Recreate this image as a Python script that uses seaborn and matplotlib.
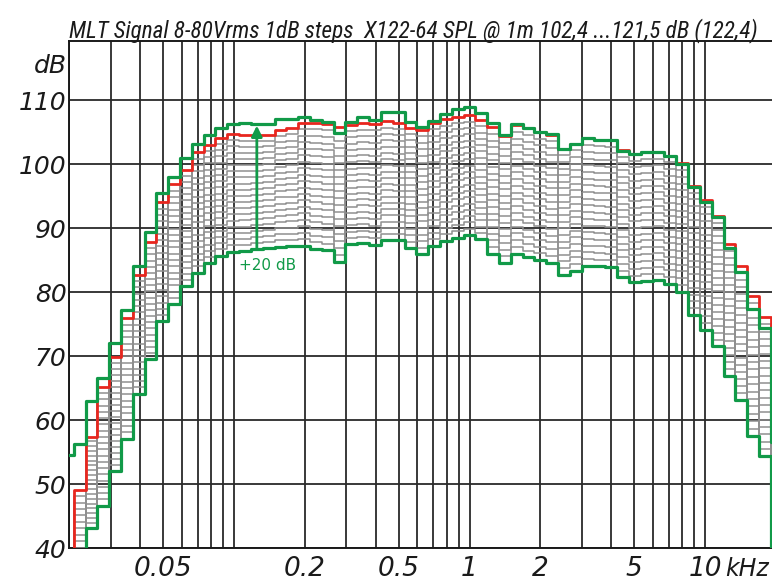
import numpy as np
import pandas as pd
import matplotlib
matplotlib.use("Agg")
import matplotlib.pyplot as plt
from matplotlib import font_manager as fm
from matplotlib.ticker import NullFormatter
import seaborn as sns

# ---------------- data (1/6-octave bands, band n has centre 1 kHz * 2**(n/6)) -------------
band_index = list(range(-34, 27))

top_db = [54.5, 56.2, 63.0, 66.6, 72.1, 77.2, 84.1, 89.4, 95.5, 98.0,
          101.0, 103.1, 104.6, 105.6, 106.3, 106.4, 106.3, 106.3, 107.0, 107.0,
          107.4, 106.9, 106.5, 104.9, 106.6, 107.4, 106.8, 108.1, 108.1, 106.6,
          105.85, 106.7, 107.85, 108.6, 108.9, 107.9, 106.4, 104.5, 106.2, 105.6,
          105.0, 104.65, 102.3, 103.2, 104.0, 103.8, 103.75, 102.1, 101.6, 101.8,
          101.9, 101.2, 100.05, 96.45, 94.1, 91.75, 86.8, 83.2, 77.4, 74.3,
          56.6]

red_db = [38.0, 49.1, 57.4, 65.2, 69.8, 75.9, 82.7, 87.8, 94.0, 96.8,
          99.1, 101.8, 103.0, 104.1, 104.7, 104.6, 104.6, 104.6, 105.35, 105.6,
          106.4, 106.45, 106.3, 105.75, 106.15, 106.35, 106.3, 106.65, 106.45, 105.65,
          105.35, 106.45, 107.0, 107.4, 107.6, 106.85, 105.75, 104.4, 106.1, 105.6,
          105.0, 104.6, 102.4, 103.2, 104.0, 103.8, 103.75, 102.2, 101.6, 101.8,
          101.9, 101.3, 100.1, 96.6, 94.3, 91.9, 87.55, 84.05, 79.45, 76.1,
          68.9]

bottom_db = [19.0, 30.0, 43.2, 46.6, 52.1, 57.1, 64.1, 69.5, 75.4, 78.1,
             80.9, 83.0, 84.5, 85.7, 86.3, 86.4, 86.7, 86.9, 87.1, 87.15,
             87.25, 86.75, 86.5, 84.7, 87.45, 87.6, 87.4, 88.05, 88.1, 86.9,
             85.9, 87.25, 88.0, 88.5, 88.9, 88.25, 86.0, 84.55, 86.0, 85.4,
             85.0, 84.6, 82.7, 83.3, 84.1, 84.0, 83.9, 82.3, 81.5, 81.7,
             81.8, 81.25, 80.05, 76.4, 74.1, 71.5, 66.9, 63.1, 57.5, 54.35,
             35.0]

n_intermediate = 18          # grey level curves between lowest and red
arrow_band = -18

x_ticks = [0.05, 0.2, 0.5, 1, 2, 5, 10]
x_tick_labels = ["0.05", "0.2", "0.5", "1", "2", "5", "10"]
y_ticks = [40, 50, 60, 70, 80, 90, 100, 110]
x_grid = [0.02, 0.03, 0.04, 0.05, 0.06, 0.07, 0.08, 0.09,
          0.1, 0.2, 0.3, 0.4, 0.5, 0.6, 0.7, 0.8, 0.9,
          1, 2, 3, 4, 5, 6, 7, 8, 9, 10, 20]
title = "MLT Signal 8-80Vrms 1dB steps  X122-64 SPL @ 1m 102,4 ...121,5 dB (122,4)"

GREEN = "#119a48"
RED = "#e8261e"
GREY = "#8f8f8f"
INK = "#1a1a1a"

# ---------------- build step tables ----------------
bands = np.array(band_index, dtype=float)
edges = 2.0 ** ((np.append(bands, bands[-1] + 1) - 0.5) / 6.0)   # kHz


def stairs(values, name):
    v = list(values) + [values[-1]]
    return pd.DataFrame({"f": edges, "dB": v, "curve": name})


B = np.array(bottom_db)
R = np.array(red_db)
grey_frames = []
for j in range(1, n_intermediate + 1):
    grey_frames.append(stairs(B + j * (R - B) / (n_intermediate + 1), f"g{j}"))
grey_df = pd.concat(grey_frames, ignore_index=True)


# ---------------- pick a narrow italic font for the title ----------------
def _is_condensed(f):
    s = f.stretch
    if isinstance(s, str):
        return "condensed" in s or "narrow" in f.name.lower()
    return s < 500


def pick_title_font():
    entries = fm.fontManager.ttflist
    pref = ["Liberation Sans Narrow", "Roboto Condensed", "Open Sans Condensed",
            "Noto Sans Condensed", "DejaVu Sans Condensed", "DejaVu Sans",
            "Noto Sans", "Open Sans", "Roboto"]
    for name in pref:
        cands = [f for f in entries if f.name == name and _is_condensed(f)
                 and f.weight in (400, "normal", "regular", "book")]
        if not cands:
            continue
        ital = [f for f in cands if f.style in ("italic", "oblique")]
        pick = ital[0] if ital else cands[0]
        return fm.FontProperties(fname=pick.fname), bool(ital)
    return fm.FontProperties(family="Roboto", style="italic"), True


title_fp, title_has_italic = pick_title_font()

# ---------------- figure ----------------
sns.set_theme(style="white")
plt.rcParams["font.family"] = ["DejaVu Sans"]

fig = plt.figure(figsize=(7.72, 5.85), dpi=100)
L, Rr, T, Bt = 69.4, 775.9, 41.0, 548.0
ax = fig.add_axes([L / 772, (585 - Bt) / 585, (Rr - L) / 772, (Bt - T) / 585])
ax.set_xscale("log")
ax.set_xlim(0.02, 20)
ax.set_ylim(40, 40 + (Bt - T) / 6.4)

sns.lineplot(data=grey_df, x="f", y="dB", units="curve", estimator=None,
             color=GREY, lw=1.1, drawstyle="steps-post", legend=False, ax=ax,
             zorder=3)
sns.lineplot(data=stairs(bottom_db, "low"), x="f", y="dB", color=GREEN, lw=2.3,
             drawstyle="steps-post", legend=False, ax=ax, zorder=4)
sns.lineplot(data=stairs(red_db, "red"), x="f", y="dB", color=RED, lw=2.0,
             drawstyle="steps-post", legend=False, ax=ax, zorder=5)
sns.lineplot(data=stairs(top_db, "top"), x="f", y="dB", color=GREEN, lw=2.3,
             drawstyle="steps-post", legend=False, ax=ax, zorder=6)

# arrow +20 dB
ia = band_index.index(arrow_band)
fa = 2.0 ** (arrow_band / 6.0)
ax.annotate("", xy=(fa, top_db[ia] - 0.3), xytext=(fa, bottom_db[ia]),
            arrowprops=dict(arrowstyle="-|>", color=GREEN, lw=2.0,
                            mutation_scale=16, shrinkA=0, shrinkB=0), zorder=7)
ax.text(0.1387, 84.2, "+20 dB", color=GREEN, fontsize=11, ha="center",
        va="center", zorder=7)

# grid / ticks
ax.set_xticks(x_grid, minor=True)
ax.xaxis.set_minor_formatter(NullFormatter())
ax.set_xticks(x_ticks)
ax.set_xticklabels(x_tick_labels)
ax.set_yticks(y_ticks)
ax.set_yticklabels([str(v) for v in y_ticks])
ax.grid(True, which="both", axis="x", color="#2a2a2a", lw=1.3, zorder=0)
ax.grid(True, which="major", axis="y", color="#2a2a2a", lw=1.3, zorder=0)
ax.set_axisbelow(True)
ax.tick_params(which="both", length=0)
ax.tick_params(axis="y", pad=2, labelsize=18)
ax.tick_params(axis="x", pad=6, labelsize=19)
for lab in ax.get_xticklabels() + ax.get_yticklabels():
    lab.set_fontstyle("italic")
    lab.set_color(INK)
ax.set_xlabel("")
ax.set_ylabel("")
for s in ["left", "bottom", "top"]:
    ax.spines[s].set_color(INK)
    ax.spines[s].set_linewidth(1.4)
ax.spines["right"].set_visible(False)

fig.text(725 / 772, 1 - 557 / 585, "kHz", fontsize=17, fontstyle="italic",
         color=INK, ha="left", va="top")
fig.text(67 / 772, 1 - 73 / 585, "dB", fontsize=18, fontstyle="italic",
         color=INK, ha="right", va="baseline")

ttl = fig.text(69 / 772, 1 - 37 / 585, title, fontproperties=title_fp,
               color=INK, ha="left", va="baseline")
ttl.set_fontsize(18)
if not title_has_italic:
    ttl.set_fontstyle("italic")
fig.canvas.draw()
w = ttl.get_window_extent().width
target = 758 - 69
ttl.set_fontsize(min(22.0, 18 * target / w))

fig.savefig("out.png", dpi=100)
